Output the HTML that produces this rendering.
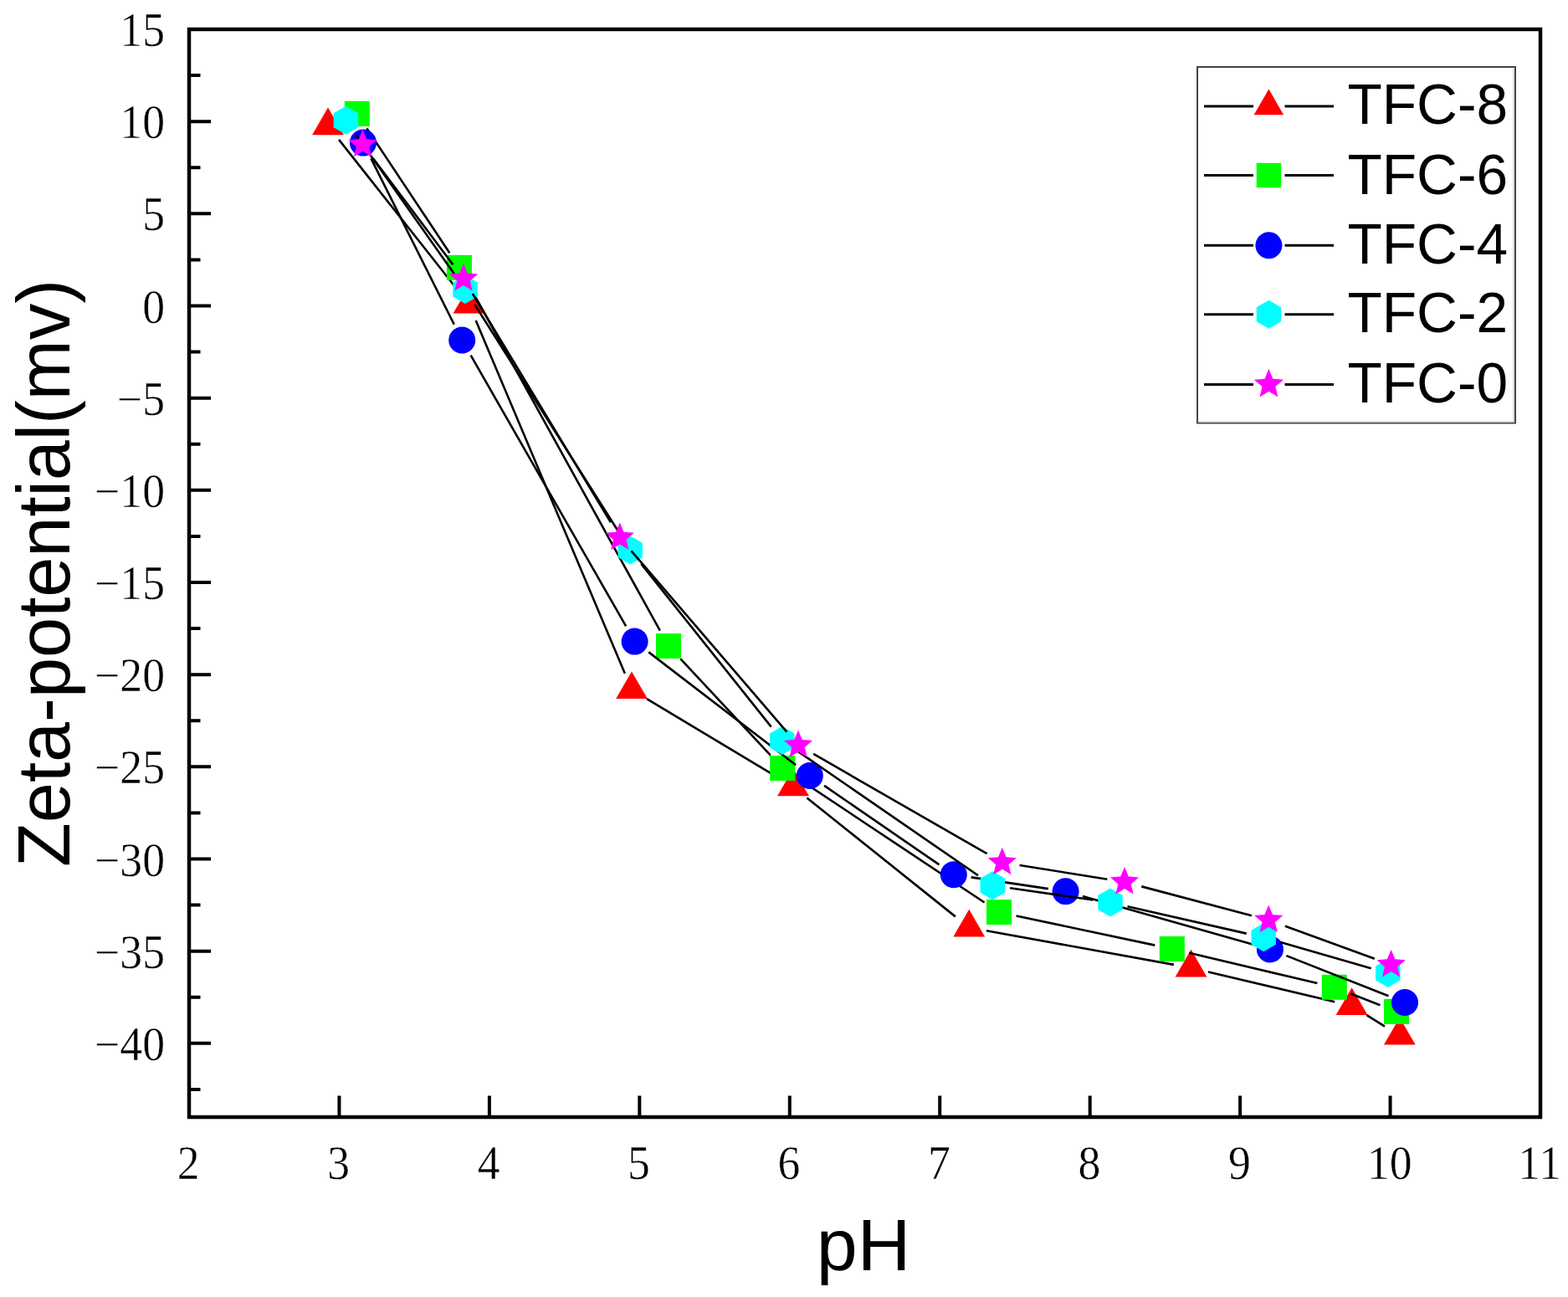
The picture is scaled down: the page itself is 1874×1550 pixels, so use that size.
<!DOCTYPE html>
<html><head><meta charset="utf-8"><title>Zeta potential vs pH</title>
<style>html,body{margin:0;padding:0;background:#fff;width:1874px;height:1550px;overflow:hidden}svg{display:block}</style>
</head><body>
<svg width="1874" height="1550" viewBox="0 0 1874 1550">
<rect width="1874" height="1550" fill="#fff"/>
<path d="M405.02 166.88L547.48 347.22M568.67 383.05L746.83 804.85M772.99 835.02L930.01 929.48M964.4 953.42L1141.8 1095.38M1178.86 1112.25L1402.84 1152.85M1443.94 1161.43L1595.16 1197.17M1633.41 1213.12L1654.99 1226.58" stroke="#000" stroke-width="2.6" fill="none"/>
<polygon points="392,128.58 410.9,161.31 373.1,161.31" fill="#ff0000"/>
<polygon points="560.5,341.88 579.4,374.61 541.6,374.61" fill="#ff0000"/>
<polygon points="755,802.38 773.9,835.11 736.1,835.11" fill="#ff0000"/>
<polygon points="948,918.48 966.9,951.21 929.1,951.21" fill="#ff0000"/>
<polygon points="1158.2,1086.68 1177.1,1119.41 1139.3,1119.41" fill="#ff0000"/>
<polygon points="1423.5,1134.78 1442.4,1167.51 1404.6,1167.51" fill="#ff0000"/>
<polygon points="1615.6,1180.18 1634.5,1212.91 1596.7,1212.91" fill="#ff0000"/>
<polygon points="1672.8,1215.88 1691.7,1248.61 1653.9,1248.61" fill="#ff0000"/>
<path d="M438.42 153.39L537.28 302.31M559.06 338.18L788.84 753.62M813.32 787.36L920.88 902.64M952.69 929.63L1176.51 1078.47M1214.54 1094.46L1380.26 1129.64M1421.24 1138.83L1574.36 1174.97M1614.35 1187.47L1649.45 1201.23" stroke="#000" stroke-width="2.6" fill="none"/>
<rect x="411.8" y="120.9" width="30" height="30" fill="#00ff00"/>
<rect x="533.9" y="304.8" width="30" height="30" fill="#00ff00"/>
<rect x="784" y="757" width="30" height="30" fill="#00ff00"/>
<rect x="920.2" y="903" width="30" height="30" fill="#00ff00"/>
<rect x="1179" y="1075.1" width="30" height="30" fill="#00ff00"/>
<rect x="1385.8" y="1119" width="30" height="30" fill="#00ff00"/>
<rect x="1579.8" y="1164.8" width="30" height="30" fill="#00ff00"/>
<rect x="1654" y="1193.9" width="30" height="30" fill="#00ff00"/>
<path d="M443.41 189.38L542.79 387.72M562.64 424.72L748.16 748.38M775.27 779.38L951.13 914.22M985.1 938.9L1122.5 1033.4M1160.57 1048.39L1252.83 1062.11M1293.81 1070.92L1497.69 1128.68M1537.43 1142.11L1659.47 1190.29" stroke="#000" stroke-width="2.6" fill="none"/>
<circle cx="434" cy="170.6" r="16" fill="#0000ff"/>
<circle cx="552.2" cy="406.5" r="16" fill="#0000ff"/>
<circle cx="758.6" cy="766.6" r="16" fill="#0000ff"/>
<circle cx="967.8" cy="927" r="16" fill="#0000ff"/>
<circle cx="1139.8" cy="1045.3" r="16" fill="#0000ff"/>
<circle cx="1273.6" cy="1065.2" r="16" fill="#0000ff"/>
<circle cx="1517.9" cy="1134.4" r="16" fill="#0000ff"/>
<circle cx="1679" cy="1198" r="16" fill="#0000ff"/>
<path d="M425.5 160.96L543.9 328.84M567.23 363.74L741.97 639.76M766.3 673.91L921.7 868.59M952.1 896.91L1169 1046.29M1207.08 1061.2L1306.22 1075.5M1347.47 1083.17L1489.73 1115.63M1530.38 1126.11L1638.62 1157.29" stroke="#000" stroke-width="2.6" fill="none"/>
<polygon points="413.4,126.8 428.12,135.3 428.12,152.3 413.4,160.8 398.68,152.3 398.68,135.3" fill="#00ffff"/>
<polygon points="556,329 570.72,337.5 570.72,354.5 556,363 541.28,354.5 541.28,337.5" fill="#00ffff"/>
<polygon points="753.2,640.5 767.92,649 767.92,666 753.2,674.5 738.48,666 738.48,649" fill="#00ffff"/>
<polygon points="934.8,868 949.52,876.5 949.52,893.5 934.8,902 920.08,893.5 920.08,876.5" fill="#00ffff"/>
<polygon points="1186.3,1041.2 1201.02,1049.7 1201.02,1066.7 1186.3,1075.2 1171.58,1066.7 1171.58,1049.7" fill="#00ffff"/>
<polygon points="1327,1061.5 1341.72,1070 1341.72,1087 1327,1095.5 1312.28,1087 1312.28,1070" fill="#00ffff"/>
<polygon points="1510.2,1103.3 1524.92,1111.8 1524.92,1128.8 1510.2,1137.3 1495.48,1128.8 1495.48,1111.8" fill="#00ffff"/>
<polygon points="1658.8,1146.1 1673.52,1154.6 1673.52,1171.6 1658.8,1180.1 1644.08,1171.6 1644.08,1154.6" fill="#00ffff"/>
<path d="M446.12 189.49L541.38 316.21M564.85 350.98L729.95 624.42M754.49 658.33L940.31 874.57M972.2 900.97L1179.6 1020.23M1218.54 1034.01L1323.26 1050.69M1364.3 1059.38L1495.9 1094.22M1535.93 1106.78L1642.87 1145.72" stroke="#000" stroke-width="2.6" fill="none"/>
<polygon points="433.5,154.7 438.26,166.15 450.62,167.14 441.2,175.2 444.08,187.26 433.5,180.8 422.92,187.26 425.8,175.2 416.38,167.14 428.74,166.15" fill="#ff00ff"/>
<polygon points="554,315 558.76,326.45 571.12,327.44 561.7,335.5 564.58,347.56 554,341.1 543.42,347.56 546.3,335.5 536.88,327.44 549.24,326.45" fill="#ff00ff"/>
<polygon points="740.8,624.4 745.56,635.85 757.92,636.84 748.5,644.9 751.38,656.96 740.8,650.5 730.22,656.96 733.1,644.9 723.68,636.84 736.04,635.85" fill="#ff00ff"/>
<polygon points="954,872.5 958.76,883.95 971.12,884.94 961.7,893 964.58,905.06 954,898.6 943.42,905.06 946.3,893 936.88,884.94 949.24,883.95" fill="#ff00ff"/>
<polygon points="1197.8,1012.7 1202.56,1024.15 1214.92,1025.14 1205.5,1033.2 1208.38,1045.26 1197.8,1038.8 1187.22,1045.26 1190.1,1033.2 1180.68,1025.14 1193.04,1024.15" fill="#ff00ff"/>
<polygon points="1344,1036 1348.76,1047.45 1361.12,1048.44 1351.7,1056.5 1354.58,1068.56 1344,1062.1 1333.42,1068.56 1336.3,1056.5 1326.88,1048.44 1339.24,1047.45" fill="#ff00ff"/>
<polygon points="1516.2,1081.6 1520.96,1093.05 1533.32,1094.04 1523.9,1102.1 1526.78,1114.16 1516.2,1107.7 1505.62,1114.16 1508.5,1102.1 1499.08,1094.04 1511.44,1093.05" fill="#ff00ff"/>
<polygon points="1662.6,1134.9 1667.36,1146.35 1679.72,1147.34 1670.3,1155.4 1673.18,1167.46 1662.6,1161 1652.02,1167.46 1654.9,1155.4 1645.48,1147.34 1657.84,1146.35" fill="#ff00ff"/>
<rect x="226" y="35" width="1615" height="1300" fill="none" stroke="#000" stroke-width="4.5"/>
<path d="M226 35H252M226 90.08H239.5M226 145.17H252M226 200.25H239.5M226 255.34H252M226 310.42H239.5M226 365.51H252M226 420.59H239.5M226 475.68H252M226 530.76H239.5M226 585.85H252M226 640.93H239.5M226 696.02H252M226 751.1H239.5M226 806.19H252M226 861.27H239.5M226 916.36H252M226 971.44H239.5M226 1026.53H252M226 1081.61H239.5M226 1136.69H252M226 1191.78H239.5M226 1246.86H252M226 1301.95H239.5M405.44 1335V1309.5M584.89 1335V1309.5M764.33 1335V1309.5M943.78 1335V1309.5M1123.22 1335V1309.5M1302.67 1335V1309.5M1482.11 1335V1309.5M1661.56 1335V1309.5" stroke="#000" stroke-width="4" fill="none"/>
<g font-family="Liberation Serif, serif" font-size="56.5" fill="#000" stroke="#fff" stroke-width="0.4" text-anchor="end">
<text transform="translate(197 55.1) scale(0.95 1)">15</text>
<text transform="translate(197 165.27) scale(0.95 1)">10</text>
<text transform="translate(197 275.44) scale(0.95 1)">5</text>
<text transform="translate(197 385.61) scale(0.95 1)">0</text>
<text transform="translate(197 495.78) scale(0.95 1)">&#8722;5</text>
<text transform="translate(197 605.95) scale(0.95 1)">&#8722;10</text>
<text transform="translate(197 716.12) scale(0.95 1)">&#8722;15</text>
<text transform="translate(197 826.29) scale(0.95 1)">&#8722;20</text>
<text transform="translate(197 936.46) scale(0.95 1)">&#8722;25</text>
<text transform="translate(197 1046.63) scale(0.95 1)">&#8722;30</text>
<text transform="translate(197 1156.79) scale(0.95 1)">&#8722;35</text>
<text transform="translate(197 1266.96) scale(0.95 1)">&#8722;40</text>
</g>
<g font-family="Liberation Serif, serif" font-size="56.5" fill="#000" stroke="#fff" stroke-width="0.4" text-anchor="middle">
<text transform="translate(225.2 1409.3) scale(0.95 1)">2</text>
<text transform="translate(404.64 1409.3) scale(0.95 1)">3</text>
<text transform="translate(584.09 1409.3) scale(0.95 1)">4</text>
<text transform="translate(763.53 1409.3) scale(0.95 1)">5</text>
<text transform="translate(942.98 1409.3) scale(0.95 1)">6</text>
<text transform="translate(1122.42 1409.3) scale(0.95 1)">7</text>
<text transform="translate(1301.87 1409.3) scale(0.95 1)">8</text>
<text transform="translate(1481.31 1409.3) scale(0.95 1)">9</text>
<text transform="translate(1660.76 1409.3) scale(0.95 1)">10</text>
<text transform="translate(1840.2 1409.3) scale(0.95 1)">11</text>
</g>
<text transform="translate(1032 1517.8)" font-family="Liberation Sans, Arial, sans-serif" font-size="88" text-anchor="middle">pH</text>
<text transform="translate(83 1036) rotate(-90)" x="0" y="0" font-family="Liberation Sans, Arial, sans-serif" font-size="89" textLength="702" lengthAdjust="spacingAndGlyphs">Zeta-potential(mv)</text>
<rect x="1431" y="80" width="380" height="425.5" fill="#fff" stroke="#444" stroke-width="2"/>
<path d="M1809 82V504H1433" fill="none" stroke="#d4d4d4" stroke-width="1.5"/>
<path d="M1439 127H1498M1535.5 127H1594" stroke="#000" stroke-width="3" fill="none"/>
<polygon points="1516.4,106.49 1534.17,137.26 1498.63,137.26" fill="#ff0000"/>
<text transform="translate(1610.5 147.6) scale(0.98 1)" font-family="Liberation Sans, Arial, sans-serif" font-size="69">TFC-8</text>
<path d="M1439 209.5H1498M1535.5 209.5H1594" stroke="#000" stroke-width="3" fill="none"/>
<rect x="1501.7" y="194.8" width="29.4" height="29.4" fill="#00ff00"/>
<text transform="translate(1610.5 231.9) scale(0.98 1)" font-family="Liberation Sans, Arial, sans-serif" font-size="69">TFC-6</text>
<path d="M1439 293.2H1498M1535.5 293.2H1594" stroke="#000" stroke-width="3" fill="none"/>
<circle cx="1516.4" cy="293.2" r="16" fill="#0000ff"/>
<text transform="translate(1610.5 314.9) scale(0.98 1)" font-family="Liberation Sans, Arial, sans-serif" font-size="69">TFC-4</text>
<path d="M1439 375.8H1498M1535.5 375.8H1594" stroke="#000" stroke-width="3" fill="none"/>
<polygon points="1516.4,358.8 1531.12,367.3 1531.12,384.3 1516.4,392.8 1501.68,384.3 1501.68,367.3" fill="#00ffff"/>
<text transform="translate(1610.5 397.3) scale(0.98 1)" font-family="Liberation Sans, Arial, sans-serif" font-size="69">TFC-2</text>
<path d="M1439 459.4H1498M1535.5 459.4H1594" stroke="#000" stroke-width="3" fill="none"/>
<polygon points="1516.4,440.86 1521.3,452.65 1534.03,453.67 1524.33,461.98 1527.3,474.4 1516.4,467.74 1505.5,474.4 1508.47,461.98 1498.77,453.67 1511.5,452.65" fill="#ff00ff"/>
<text transform="translate(1610.5 481.1) scale(0.98 1)" font-family="Liberation Sans, Arial, sans-serif" font-size="69">TFC-0</text>
</svg>
</body></html>
